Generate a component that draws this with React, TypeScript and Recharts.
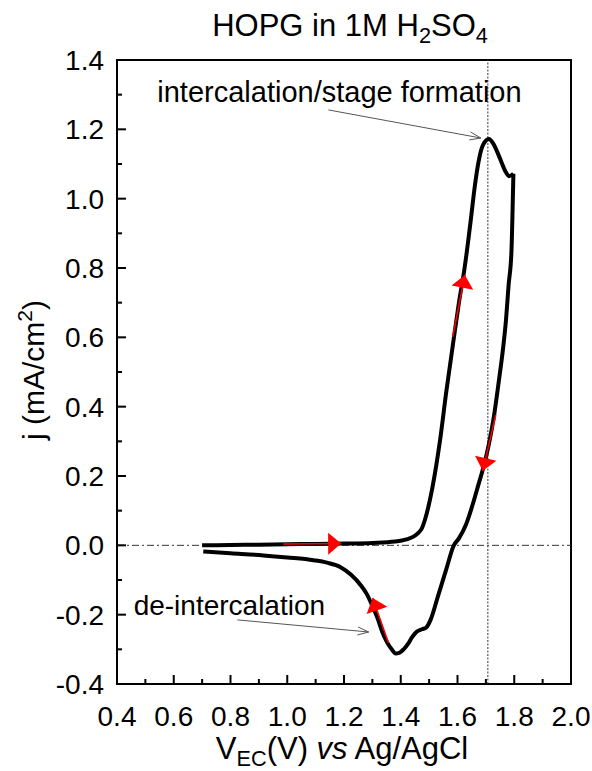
import React from 'react';
import {
  ComposedChart,
  Line,
  XAxis,
  YAxis,
  ReferenceLine,
  ReferenceArea,
  ReferenceDot,
} from 'recharts';

// Cyclic voltammogram, HOPG in 1M H2SO4 (V vs Ag/AgCl, j in mA/cm2)
const forwardSweep = [
  { v: 0.7, j: 0.0 }, { v: 0.8, j: 0.001 }, { v: 0.9, j: 0.002 }, { v: 1.0, j: 0.003 },
  { v: 1.1, j: 0.004 }, { v: 1.2, j: 0.005 }, { v: 1.3, j: 0.007 }, { v: 1.38, j: 0.011 },
  { v: 1.42, j: 0.017 }, { v: 1.445, j: 0.025 }, { v: 1.461, j: 0.035 }, { v: 1.475, j: 0.05 },
  { v: 1.485, j: 0.073 }, { v: 1.497, j: 0.11 }, { v: 1.51, j: 0.16 }, { v: 1.525, j: 0.23 },
  { v: 1.538, j: 0.3 }, { v: 1.56, j: 0.44 }, { v: 1.584, j: 0.58 },
  { v: 1.605, j: 0.7 }, { v: 1.625, j: 0.8 }, { v: 1.647, j: 0.94 }, { v: 1.661, j: 1.036 },
  { v: 1.676, j: 1.114 }, { v: 1.69, j: 1.155 }, { v: 1.711, j: 1.172 }, { v: 1.725, j: 1.16 },
  { v: 1.74, j: 1.135 }, { v: 1.755, j: 1.105 }, { v: 1.768, j: 1.08 }, { v: 1.782, j: 1.065 },
  { v: 1.797, j: 1.072 },
];

const reverseSweep = [
  { v: 1.797, j: 1.072 }, { v: 1.795, j: 1.0 }, { v: 1.79, j: 0.845 }, { v: 1.78, j: 0.75 },
  { v: 1.771, j: 0.651 }, { v: 1.76, j: 0.564 }, { v: 1.745, j: 0.47 }, { v: 1.728, j: 0.37 },
  { v: 1.71, j: 0.29 }, { v: 1.693, j: 0.23 }, { v: 1.672, j: 0.17 }, { v: 1.658, j: 0.13 },
  { v: 1.63, j: 0.06 }, { v: 1.605, j: 0.02 }, { v: 1.587, j: 0.0 }, { v: 1.56, j: -0.07 },
  { v: 1.53, j: -0.15 }, { v: 1.505, j: -0.215 }, { v: 1.49, j: -0.237 }, { v: 1.475, j: -0.242 },
  { v: 1.455, j: -0.25 }, { v: 1.44, j: -0.265 }, { v: 1.425, j: -0.285 }, { v: 1.41, j: -0.3 },
  { v: 1.395, j: -0.31 }, { v: 1.382, j: -0.312 }, { v: 1.368, j: -0.3 }, { v: 1.352, j: -0.28 },
  { v: 1.335, j: -0.25 }, { v: 1.318, j: -0.21 }, { v: 1.3, j: -0.175 }, { v: 1.28, j: -0.14 },
  { v: 1.259, j: -0.115 }, { v: 1.225, j: -0.085 }, { v: 1.188, j: -0.063 }, { v: 1.14, j: -0.05 },
  { v: 1.093, j: -0.043 }, { v: 1.0, j: -0.035 }, { v: 0.916, j: -0.029 }, { v: 0.8, j: -0.023 },
  { v: 0.704, j: -0.018 },
];

// sweep direction markers: tail -> tip
const sweepArrows = [
  { v0: 0.986, j0: 0.004, v1: 1.19, j1: 0.005 },
  { v0: 1.583, j0: 0.601, v1: 1.626, j1: 0.78 },
  { v0: 1.735, j0: 0.376, v1: 1.689, j1: 0.215 },
  { v0: 1.357, j0: -0.282, v1: 1.301, j1: -0.152 },
];

const notes = [
  { text: 'intercalation/stage formation', size: 29, v: 1.184, j: 1.279, v0: 1.145, j0: 1.256, v1: 1.682, j1: 1.175 },
  { text: 'de-intercalation', size: 28, v: 0.796, j: -0.201, v0: 0.824, j0: -0.215, v1: 1.287, j1: -0.25 },
];

const peakPotential = 1.707;

const xTicks = [0.4, 0.5, 0.6, 0.7, 0.8, 0.9, 1.0, 1.1, 1.2, 1.3, 1.4, 1.5, 1.6, 1.7, 1.8, 1.9, 2.0];
const yTicks = [-0.4, -0.3, -0.2, -0.1, 0.0, 0.1, 0.2, 0.3, 0.4, 0.5, 0.6, 0.7, 0.8, 0.9, 1.0, 1.1, 1.2, 1.3, 1.4];

const W = 592;
const H = 771;
const PLOT = { left: 117, right: 571, top: 60, bottom: 684 };
const X_DOMAIN: [number, number] = [0.4, 2.0];
const Y_DOMAIN: [number, number] = [-0.4, 1.4];
const PX_PER_V = (PLOT.right - PLOT.left) / (X_DOMAIN[1] - X_DOMAIN[0]);
const PX_PER_J = (PLOT.bottom - PLOT.top) / (Y_DOMAIN[1] - Y_DOMAIN[0]);
const FONT = '"Liberation Sans", Arial, sans-serif';
const TICK_FONT = 28;

const isMajor = (value: number) => Math.round(value * 10) % 2 === 0;

const XTick = (props: any) => {
  const { x, payload } = props;
  const major = isMajor(payload.value);
  return (
    <g>
      <line x1={x} x2={x} y1={PLOT.bottom} y2={PLOT.bottom - (major ? 9 : 5)} stroke="#000" strokeWidth={2} />
      {major && (
        <text x={x} y={PLOT.bottom + 42} textAnchor="middle" fontSize={TICK_FONT} fontFamily={FONT} fill="#000">
          {payload.value.toFixed(1)}
        </text>
      )}
    </g>
  );
};

const YTick = (props: any) => {
  const { y, payload } = props;
  const major = isMajor(payload.value);
  return (
    <g>
      <line x1={PLOT.left} x2={PLOT.left + (major ? 9 : 5)} y1={y} y2={y} stroke="#000" strokeWidth={2} />
      {major && (
        <text x={PLOT.left - 13} y={y + 10} textAnchor="end" fontSize={TICK_FONT} fontFamily={FONT} fill="#000">
          {payload.value.toFixed(1)}
        </text>
      )}
    </g>
  );
};

// angle of a data-space direction, measured on screen
const screenAngle = (dv: number, dj: number) => Math.atan2(-dj * PX_PER_J, dv * PX_PER_V);

const rotate = (cx: number, cy: number, a: number, px: number, py: number) =>
  `${cx + px * Math.cos(a) - py * Math.sin(a)},${cy + px * Math.sin(a) + py * Math.cos(a)}`;

const solidHead = (a: number) => (props: any) => {
  const { cx, cy, index } = props;
  if (index !== 1) return <g key={`d${index}`} />;
  const pts = [rotate(cx, cy, a, 0, 0), rotate(cx, cy, a, -13, -11), rotate(cx, cy, a, -13, 11)].join(' ');
  return <polygon key={`d${index}`} points={pts} fill="#ff0000" />;
};

const openHead = (a: number) => (props: any) => {
  const { cx, cy, index } = props;
  if (index !== 1) return <g key={`d${index}`} />;
  const d = `M${rotate(cx, cy, a, -11, -4)} L${cx},${cy} L${rotate(cx, cy, a, -11, 4)}`;
  return <path key={`d${index}`} d={d} fill="none" stroke="#555" strokeWidth={1} />;
};

const subStyle: React.CSSProperties = { fontSize: '0.7em', verticalAlign: '-0.3em', lineHeight: 0 };

const App: React.FC = () => {
  return (
    <div style={{ position: 'absolute', left: 0, top: 0, width: W, height: H, background: '#fff', fontFamily: FONT }}>
      <div
        style={{
          position: 'absolute', left: 350, top: 10, transform: 'translateX(-50%)',
          fontSize: 31, lineHeight: 1, whiteSpace: 'nowrap', color: '#000',
        }}
      >
        HOPG in 1M H<span style={subStyle}>2</span>SO<span style={subStyle}>4</span>
      </div>

      <ComposedChart
        width={W}
        height={H}
        margin={{ top: PLOT.top, right: W - PLOT.right, bottom: H - PLOT.bottom - 50, left: PLOT.left - 60 }}
      >
        <XAxis
          dataKey="v"
          type="number"
          domain={X_DOMAIN}
          ticks={xTicks}
          interval={0}
          allowDataOverflow
          height={50}
          axisLine={false}
          tickLine={false}
          tick={XTick}
        />
        <YAxis
          dataKey="j"
          type="number"
          domain={Y_DOMAIN}
          ticks={yTicks}
          interval={0}
          allowDataOverflow
          width={60}
          axisLine={false}
          tickLine={false}
          tick={YTick}
        />

        <ReferenceLine y={0} stroke="#333" strokeWidth={1} strokeDasharray="7 3 2 3" />
        <ReferenceLine x={peakPotential} stroke="#333" strokeWidth={1} strokeDasharray="2 1.5" />
        <ReferenceArea
          x1={X_DOMAIN[0]}
          x2={X_DOMAIN[1]}
          y1={Y_DOMAIN[0]}
          y2={Y_DOMAIN[1]}
          fill="none"
          fillOpacity={0}
          stroke="#000"
          strokeWidth={2}
        />

        <Line
          data={forwardSweep}
          dataKey="j"
          type="monotone"
          stroke="#000"
          strokeWidth={4}
          dot={false}
          isAnimationActive={false}
        />
        <Line
          data={reverseSweep}
          dataKey="j"
          type="monotone"
          stroke="#000"
          strokeWidth={4}
          dot={false}
          isAnimationActive={false}
        />

        {sweepArrows.map((a, i) => (
          <Line
            key={`arrow-${i}`}
            data={[{ v: a.v0, j: a.j0 }, { v: a.v1, j: a.j1 }]}
            dataKey="j"
            type="linear"
            stroke="#ff0000"
            strokeWidth={1.5}
            dot={solidHead(screenAngle(a.v1 - a.v0, a.j1 - a.j0))}
            activeDot={false}
            isAnimationActive={false}
          />
        ))}

        {notes.map((n, i) => (
          <Line
            key={`note-line-${i}`}
            data={[{ v: n.v0, j: n.j0 }, { v: n.v1, j: n.j1 }]}
            dataKey="j"
            type="linear"
            stroke="#555"
            strokeWidth={1}
            dot={openHead(screenAngle(n.v1 - n.v0, n.j1 - n.j0))}
            activeDot={false}
            isAnimationActive={false}
          />
        ))}
        {notes.map((n, i) => (
          <ReferenceDot
            key={`note-text-${i}`}
            x={n.v}
            y={n.j}
            r={0}
            shape={(p: any) => (
              <text x={p.cx} y={p.cy} textAnchor="middle" fontSize={n.size} fontFamily={FONT} fill="#000">
                {n.text}
              </text>
            )}
          />
        ))}
      </ComposedChart>

      <div
        style={{
          position: 'absolute', left: 342, top: 733, transform: 'translateX(-50%)',
          fontSize: 31, lineHeight: 1, whiteSpace: 'nowrap', color: '#000',
        }}
      >
        V<span style={subStyle}>EC</span>(V) <i>vs</i> Ag/AgCl
      </div>
      <div
        style={{
          position: 'absolute', left: 34, top: 370, transform: 'translate(-50%, -50%) rotate(-90deg)',
          fontSize: 30, lineHeight: 1, whiteSpace: 'nowrap', color: '#000',
        }}
      >
        j (mA/cm<span style={{ fontSize: '0.7em', verticalAlign: '0.55em', lineHeight: 0 }}>2</span>)
      </div>
    </div>
  );
};

export default App;
